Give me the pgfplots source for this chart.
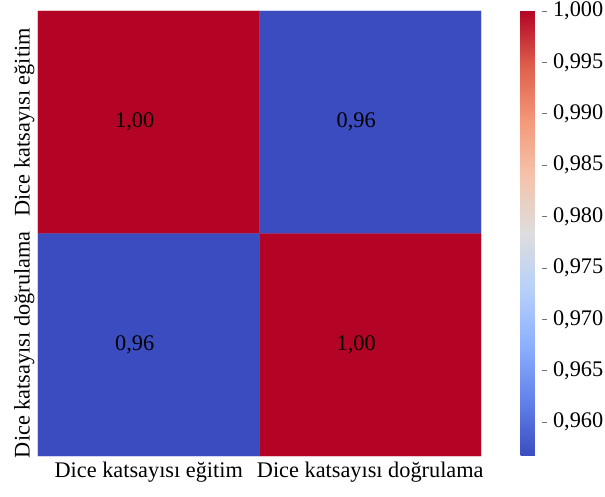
\documentclass[border=0pt]{standalone}
\usepackage{pgfplots}
\pgfplotsset{compat=1.18}
\usepackage{fontspec}
\setmainfont{Liberation Serif}
\newcommand\bigf{\fontsize{22.3pt}{26pt}\selectfont}
\begin{document}
\begin{tikzpicture}
\useasboundingbox (-38pt,-41pt) rectangle (567pt,456pt);
\begin{axis}[
  at={(0,0)}, anchor=south west,
  scale only axis, width=443pt, height=445pt,
  xmin=-0.5, xmax=1.5, ymin=-0.5, ymax=1.5, y dir=reverse,
  xtick={0,1}, ytick={0,1},
  xticklabels={Dice katsayısı eğitim, Dice katsayısı doğrulama},
  yticklabels={Dice katsayısı eğitim, Dice katsayısı doğrulama},
  xticklabel style={font=\bigf, yshift=-2pt},
  yticklabel style={font=\bigf, rotate=90, anchor=south},
  tick style={draw=none},
  axis line style={draw=none},
  colormap={cw}{rgb255=(59,76,192) rgb255=(98,130,234) rgb255=(141,176,254) rgb255=(184,208,249) rgb255=(221,221,221) rgb255=(244,196,173) rgb255=(244,154,123) rgb255=(222,96,77) rgb255=(180,4,38)},
  point meta min=0.9567, point meta max=1.0,
  colorbar,
  colorbar style={
    at={(parent axis.north east)}, anchor=north west, xshift=31pt,
    scale only axis, width=21pt, height=445pt,
    ytick={0.96,0.965,0.97,0.975,0.98,0.985,0.99,0.995,1.0},
    ytick pos=right, tick align=outside,
    yticklabel style={font=\bigf, xshift=3pt, inner ysep=0.5pt, /pgf/number format/.cd, fixed, fixed zerofill, precision=3, use comma, assume math mode=true},
    axis line style={draw=none},
    major tick length=5pt,
    tick style={draw=black!55, line width=0.8pt},
  },
]
\addplot[matrix plot*, mesh/cols=2, point meta=explicit] table[meta=c]{
x y c
0 0 1.0
1 0 0.9567
0 1 0.9567
1 1 1.0
};
\addplot[only marks, mark=none, point meta=explicit symbolic,
  nodes near coords, nodes near coords align={center},
  every node near coord/.append style={font=\bigf, anchor=center, xshift=-14pt, yshift=0pt, text=black}]
  table[meta=lab]{
x y lab
0 0 1,00
1 0 0,96
0 1 0,96
1 1 1,00
};
\end{axis}
\end{tikzpicture}
\end{document}
